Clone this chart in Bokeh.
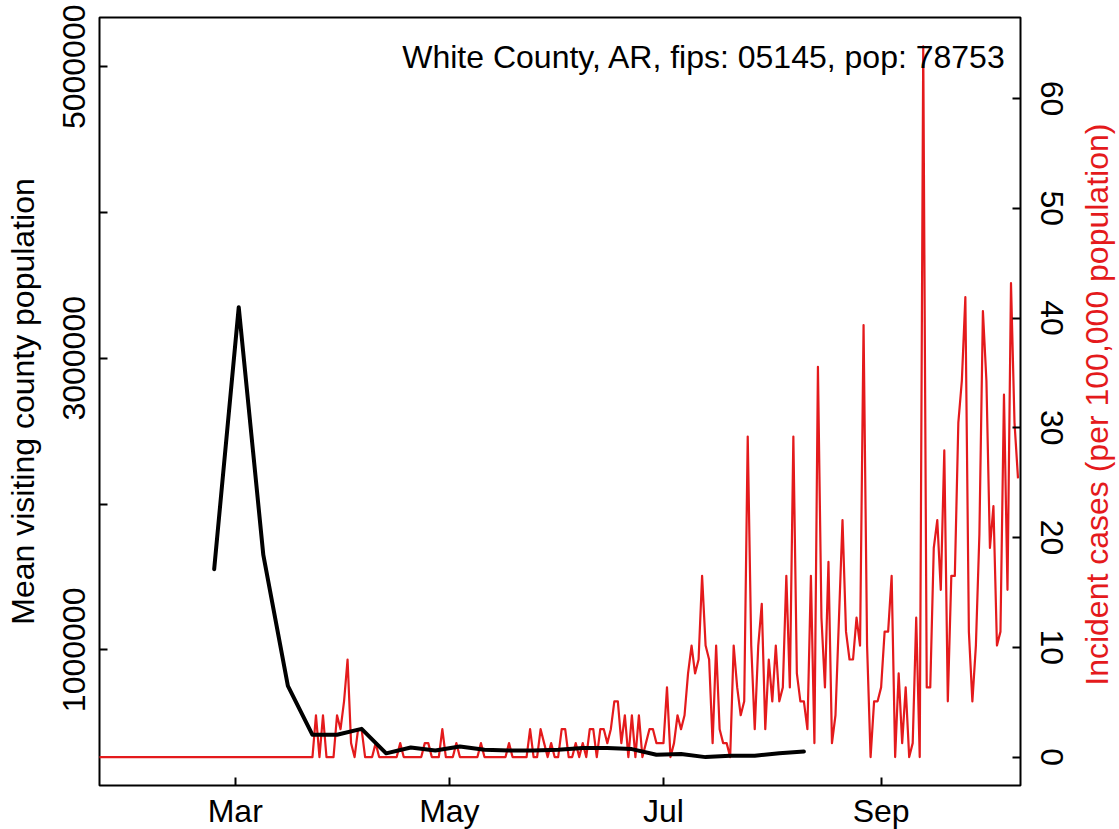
import math
import pandas as pd
from bokeh.plotting import figure
from bokeh.layouts import row
from bokeh.models import Range1d, LinearAxis, FixedTicker, Label, NumeralTickFormatter, DatetimeTickFormatter
from bokeh.embed import file_html
from bokeh.resources import INLINE

FONT = "Liberation Sans"
RED = "#E41A1C"
FS = "32px"

title_text = "White County, AR, fips: 05145, pop: 78753"
left_title = "Mean visiting county population"
right_title = "Incident cases (per 100,000 population)"
population = 78753

# weekly mean visiting county population (black line)
visit_start = "2020-02-24"
visit_mean = [1553000, 3350000, 1651000, 753000, 417000, 417000, 458000, 290000,
              330000, 309000, 337000, 314000, 309000, 309000, 314000, 326000,
              326000, 319000, 280000, 285000, 264000, 273000, 273000, 291000, 302000]

# daily incident case counts from 2020-01-22 (red line, shown per 100,000 population)
case_start = "2020-01-22"
daily_cases = (
    [0] * 39 +                                   # Jan 22 - Feb 29
    [0] * 23 +                                   # Mar 1 - Mar 23
    [3, 0, 3, 0, 0, 0, 3, 2, 4, 7, 1, 0, 2, 2, 0, 0, 0, 1, 0, 0, 0, 0, 0, 0,
     1, 0, 0, 0, 0, 0, 0, 1, 1, 0, 0, 0, 2, 0, 0, 0, 1, 0, 0, 0, 0, 0, 0,
     1, 0, 0, 0, 0, 0, 0, 0, 1, 0, 0, 0, 0, 0, 2, 0, 0, 2, 1, 0, 1, 0, 0,
     2, 2, 0, 0, 1, 0, 1, 0, 2, 2, 0, 2, 2, 1, 2, 4, 4, 1, 3, 0, 3, 0, 3,
     0, 1, 2, 2, 1, 1, 1, 5, 0, 1, 3, 2, 3, 6, 8, 6, 7, 13, 8, 7, 1, 8, 2,
     1, 1, 0, 8, 5, 3, 4, 23, 8, 2, 8, 11, 2, 7, 4, 8, 4, 5, 13, 5, 23, 6,
     4, 4, 2, 13, 1, 28, 10, 5, 14, 1, 3, 10, 17, 9, 7, 7, 10, 8, 31, 8, 0,
     4, 4, 5, 9, 9, 13, 0, 6, 1, 5, 0, 1, 10, 0, 51, 5, 5, 15, 17, 12, 22,
     4, 13, 13, 24, 27, 33, 9, 4, 8, 16, 32, 27, 15, 18, 8, 9, 26, 12, 34,
     24, 20]
)

month_ticks = ["2020-03-01", "2020-05-01", "2020-07-01", "2020-09-01"]
month_labels = ["Mar", "May", "Jul", "Sep"]
left_ticks = [1000000, 2000000, 3000000, 4000000, 5000000]
left_labels = ["1000000", "", "3000000", "", "5000000"]
right_ticks = [0, 10, 20, 30, 40, 50, 60]

visit_dates = pd.date_range(visit_start, periods=len(visit_mean), freq="7D")
case_dates = pd.date_range(case_start, periods=len(daily_cases), freq="D")
case_rate = [c * 100000.0 / population for c in daily_cases]

DAY = 86400000.0


def ms(ts):
    return pd.Timestamp(ts).timestamp() * 1000.0


x_start = ms(pd.Timestamp("2020-01-22") + pd.Timedelta(hours=8))
x_end = ms(pd.Timestamp("2020-10-10") + pd.Timedelta(hours=17))
y_left = (69300, 5338000)
y_right = (-2.59, 67.38)

BORDER_L, BORDER_T, BORDER_B, BORDER_R = 99, 17, 44, 60
FRAME_W, FRAME_H = 921, 768

p = figure(frame_width=FRAME_W, frame_height=FRAME_H, x_axis_type="datetime",
           x_range=Range1d(x_start, x_end), y_range=Range1d(*y_left),
           output_backend="svg", toolbar_location=None,
           min_border_left=BORDER_L, min_border_right=BORDER_R,
           min_border_top=BORDER_T, min_border_bottom=BORDER_B)
p.extra_y_ranges = {"cases": Range1d(*y_right)}

p.xgrid.grid_line_color = None
p.ygrid.grid_line_color = None
p.outline_line_color = "black"
p.outline_line_width = 2
p.background_fill_color = "white"
p.border_fill_color = "white"

p.line(case_dates, case_rate, y_range_name="cases", line_color=RED, line_width=2.2,
       line_join="round")
p.line(visit_dates, visit_mean, line_color="black", line_width=4,
       line_join="round", line_cap="round")

right = LinearAxis(y_range_name="cases")
p.add_layout(right, "right")


def style(ax):
    ax.axis_line_color = None
    ax.major_tick_in = 8
    ax.major_tick_out = 0
    ax.major_tick_line_width = 2
    ax.major_tick_line_color = "black"
    ax.minor_tick_line_color = None
    ax.major_label_text_font = FONT
    ax.major_label_text_font_size = FS
    ax.major_label_text_color = "black"
    ax.axis_label_text_font = FONT
    ax.axis_label_text_font_size = FS
    ax.axis_label_text_font_style = "normal"


xax = p.xaxis[0]
style(xax)
xax.ticker = FixedTicker(ticks=[ms(t) for t in month_ticks])
xax.formatter = DatetimeTickFormatter(days="%b", months="%b", years="%b")
xax.major_label_overrides = {ms(t): l for t, l in zip(month_ticks, month_labels)}
xax.major_label_standoff = 7

yax = p.yaxis[0]
style(yax)
yax.ticker = FixedTicker(ticks=left_ticks)
yax.formatter = NumeralTickFormatter(format="0")
yax.major_label_overrides = {t: l for t, l in zip(left_ticks, left_labels)}
yax.major_label_orientation = "vertical"
yax.major_label_standoff = 14
yax.axis_label = left_title
yax.axis_label_text_color = "black"
yax.axis_label_standoff = 20

style(right)
right.ticker = FixedTicker(ticks=right_ticks)
right.major_label_orientation = "vertical"
right.major_label_standoff = 20

# title (top right, inside the box)
p.add_layout(Label(x=x_end - 4.0 * DAY, y=5067000, text=title_text, text_align="right",
                   text_baseline="alphabetic", text_font=FONT, text_font_size=FS,
                   text_color="black"))

# right-hand axis title, reading bottom to top, in a narrow strip beside the plot
TOTAL_H = BORDER_T + FRAME_H + BORDER_B
STRIP_W = 38
strip = figure(width=STRIP_W, height=TOTAL_H, x_range=Range1d(0, STRIP_W),
               y_range=Range1d(0, TOTAL_H), output_backend="svg", toolbar_location=None,
               min_border=0)
strip.axis.visible = False
strip.grid.grid_line_color = None
strip.outline_line_color = None
strip.background_fill_color = "white"
strip.border_fill_color = "white"
strip.add_layout(Label(x=16, y=TOTAL_H - (BORDER_T + FRAME_H / 2) - 18, text=right_title,
                       angle=math.pi / 2, text_align="center", text_baseline="alphabetic",
                       text_font=FONT, text_font_size=FS, text_color=RED))

layout = row(p, strip, spacing=0)

open("out.html", "w").write(file_html(layout, INLINE))
